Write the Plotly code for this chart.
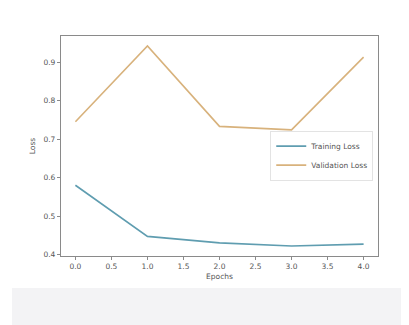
import plotly.graph_objects as go

epochs = [0, 1, 2, 3, 4]
training_loss = [0.580, 0.447, 0.430, 0.422, 0.427]
validation_loss = [0.745, 0.942, 0.733, 0.724, 0.913]
x_ticks = [0.0, 0.5, 1.0, 1.5, 2.0, 2.5, 3.0, 3.5, 4.0]
y_ticks = [0.4, 0.5, 0.6, 0.7, 0.8, 0.9]

fig = go.Figure()
fig.add_trace(go.Scatter(x=epochs, y=training_loss, mode="lines", name="Training Loss",
                         line=dict(color="#5f9db0", width=1.6)))
fig.add_trace(go.Scatter(x=epochs, y=validation_loss, mode="lines", name="Validation Loss",
                         line=dict(color="#d8b27c", width=1.6)))

# the page body has an 8px default margin; compensate so the figure fills the window
OFF = 8
W, H = 409 - OFF, 325 - OFF
L, R, T, B = 61 - OFF, 31, 36 - OFF, 69
pw, ph = W - L - R, H - T - B

# light grey band at the bottom of the image
band_top = 288 - OFF
fig.add_shape(type="rect", xref="paper", yref="paper", layer="below",
              x0=-(L - (12 - OFF)) / pw, x1=(W - L + 20) / pw,
              y0=-(H - T - ph + 20) / ph, y1=-(band_top - T - ph) / ph,
              fillcolor="#f3f3f5", line=dict(width=0))

axis_common = dict(showgrid=False, zeroline=False, showline=True, mirror=True,
                   linecolor="#8a8a8a", linewidth=1.2, ticks="outside", ticklen=3,
                   tickcolor="#8a8a8a", tickfont=dict(size=7.5, color="#555"))

fig.update_layout(
    width=W, height=H,
    margin=dict(l=L, r=R, t=T, b=B),
    paper_bgcolor="#ffffff", plot_bgcolor="#ffffff",
    font=dict(family="DejaVu Sans", size=7, color="#555"),
    xaxis=dict(range=[-0.2, 4.2], tickvals=x_ticks,
               ticktext=[f"{v:.1f}" for v in x_ticks],
               title=dict(text="Epochs", font=dict(size=7.5, color="#555"), standoff=3),
               **axis_common),
    yaxis=dict(range=[0.396, 0.968], tickvals=y_ticks,
               ticktext=[f"{v:.1f}" for v in y_ticks],
               title=dict(text="Loss", font=dict(size=7.5, color="#555"), standoff=6),
               **axis_common),
    legend=dict(x=0.985, y=0.57, xanchor="right", yanchor="top",
                bgcolor="rgba(255,255,255,0.8)", bordercolor="#e3e3e3", borderwidth=1,
                font=dict(size=7.5, color="#555"), itemwidth=30, tracegroupgap=0),
    showlegend=True,
)

fig.write_html("out.html")
